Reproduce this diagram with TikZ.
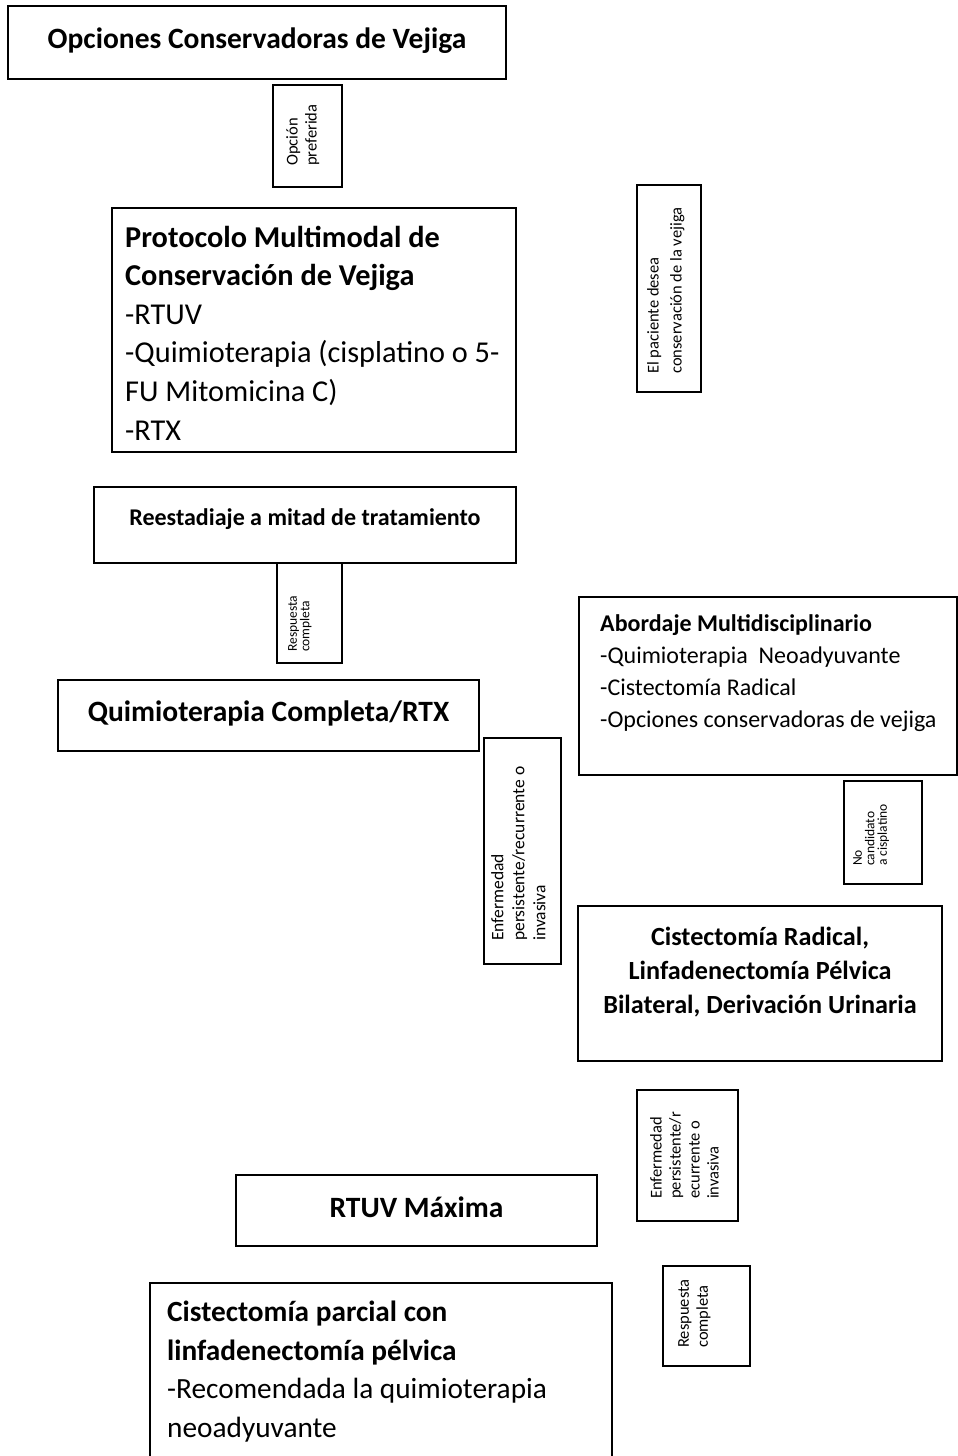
\documentclass[tikz,border=0pt]{standalone}
\usepackage{fontspec}
\setmainfont{Carlito}
\usetikzlibrary{fit}
\newcommand\pxsize[2]{\fontsize{#1}{#2}\selectfont}

\begin{document}
\begin{tikzpicture}[x=1pt,y=-1pt,
  frame/.style={draw=black, line width=1.8pt, inner sep=0pt, fit={#1}},
  head/.style={font=\bfseries\pxsize{29.5}{36}, inner sep=0pt, anchor=base},
  listtext/.style={align=left, inner sep=0pt, anchor=base west},
  vlabel/.style={rotate=90, align=left, anchor=north west, inner sep=0pt, font=\pxsize{16.5}{19}},
  vsmall/.style={vlabel, font=\pxsize{13.5}{12.5}}]
\useasboundingbox (0,0) rectangle (958,1456);
\clip (0,0) rectangle (958,1456);

% frames
\node[frame={(8,6) (506,79)}] (opc) {};
\node[frame={(273,85) (342,187)}] (pref) {};
\node[frame={(112,208) (516,452)}] (prot) {};
\node[frame={(637,185) (701,392)}] (desea) {};
\node[frame={(94,487) (516,563)}] (rees) {};
\node[frame={(277,563) (342,663)}] (resp1) {};
\node[frame={(58,680) (479,751)}] (qct) {};
\node[frame={(579,597) (957,775)}] (abord) {};
\node[frame={(484,738) (561,964)}] (enf1) {};
\node[frame={(844,781) (922,884)}] (nocand) {};
\node[frame={(578,906) (942,1061)}] (cist) {};
\node[frame={(637,1090) (738,1221)}] (enf2) {};
\node[frame={(236,1175) (597,1246)}] (rtuv) {};
\node[frame={(663,1266) (750,1366)}] (resp2) {};
\node[frame={(150,1283) (612,1475)}] (parc) {};

% horizontal texts (multi-line nodes are placed by the baseline of their last line)
\node[head] (topt) at (257,48) {Opciones Conservadoras de Vejiga};
\node[listtext, font=\pxsize{30.3}{38.6}] (prott) at (125,440)
  {\textbf{Protocolo Multimodal de}\\\textbf{Conservación de Vejiga}\\-RTUV\\-Quimioterapia (cisplatino o 5-\\FU Mitomicina C)\\-RTX};
\node[head, font=\bfseries\pxsize{24}{28}] (reest) at (305,525) {Reestadiaje a mitad de tratamiento};
\node[head] (qctt) at (268.5,721) {Quimioterapia Completa/RTX};
\node[listtext, font=\pxsize{24}{32}] (abordt) at (600,727)
  {\textbf{Abordaje Multidisciplinario}\\-Quimioterapia\ \ Neoadyuvante\\-Cistectomía Radical\\-Opciones conservadoras de vejiga};
\node[align=center, inner sep=0pt, anchor=base, font=\bfseries\pxsize{26.2}{34}] (cistt) at (760,1013)
  {Cistectomía Radical,\\Linfadenectomía Pélvica\\Bilateral, Derivación Urinaria};
\node[head] (rtuvt) at (416.5,1217) {RTUV Máxima};
\node[listtext, font=\pxsize{29.3}{38.5}] (parct) at (167,1437)
  {\textbf{Cistectomía parcial con}\\\textbf{linfadenectomía pélvica}\\-Recomendada la quimioterapia\\neoadyuvante};

% vertical labels, read from bottom to top
\node[vlabel] (preft) at (286,166) {Opción\\preferida};
\node[vlabel, font=\pxsize{16.5}{23}] (deseat) at (647,374) {El paciente desea\\conservación de la vejiga};
\node[vsmall] (resp1t) at (288,652) {Respuesta\\completa};
\node[vlabel, font=\pxsize{17.5}{21}] (enf1t) at (491,941) {Enfermedad\\persistente/recurrente o\\invasiva};
\node[vsmall] (nocandt) at (853,866) {No\\candidato\\a cisplatino};
\node[vlabel] (enf2t) at (650,1199) {Enfermedad\\persistente/r\\ecurrente o\\invasiva};
\node[vlabel] (resp2t) at (678,1348) {Respuesta\\completa};
\end{tikzpicture}
\end{document}
